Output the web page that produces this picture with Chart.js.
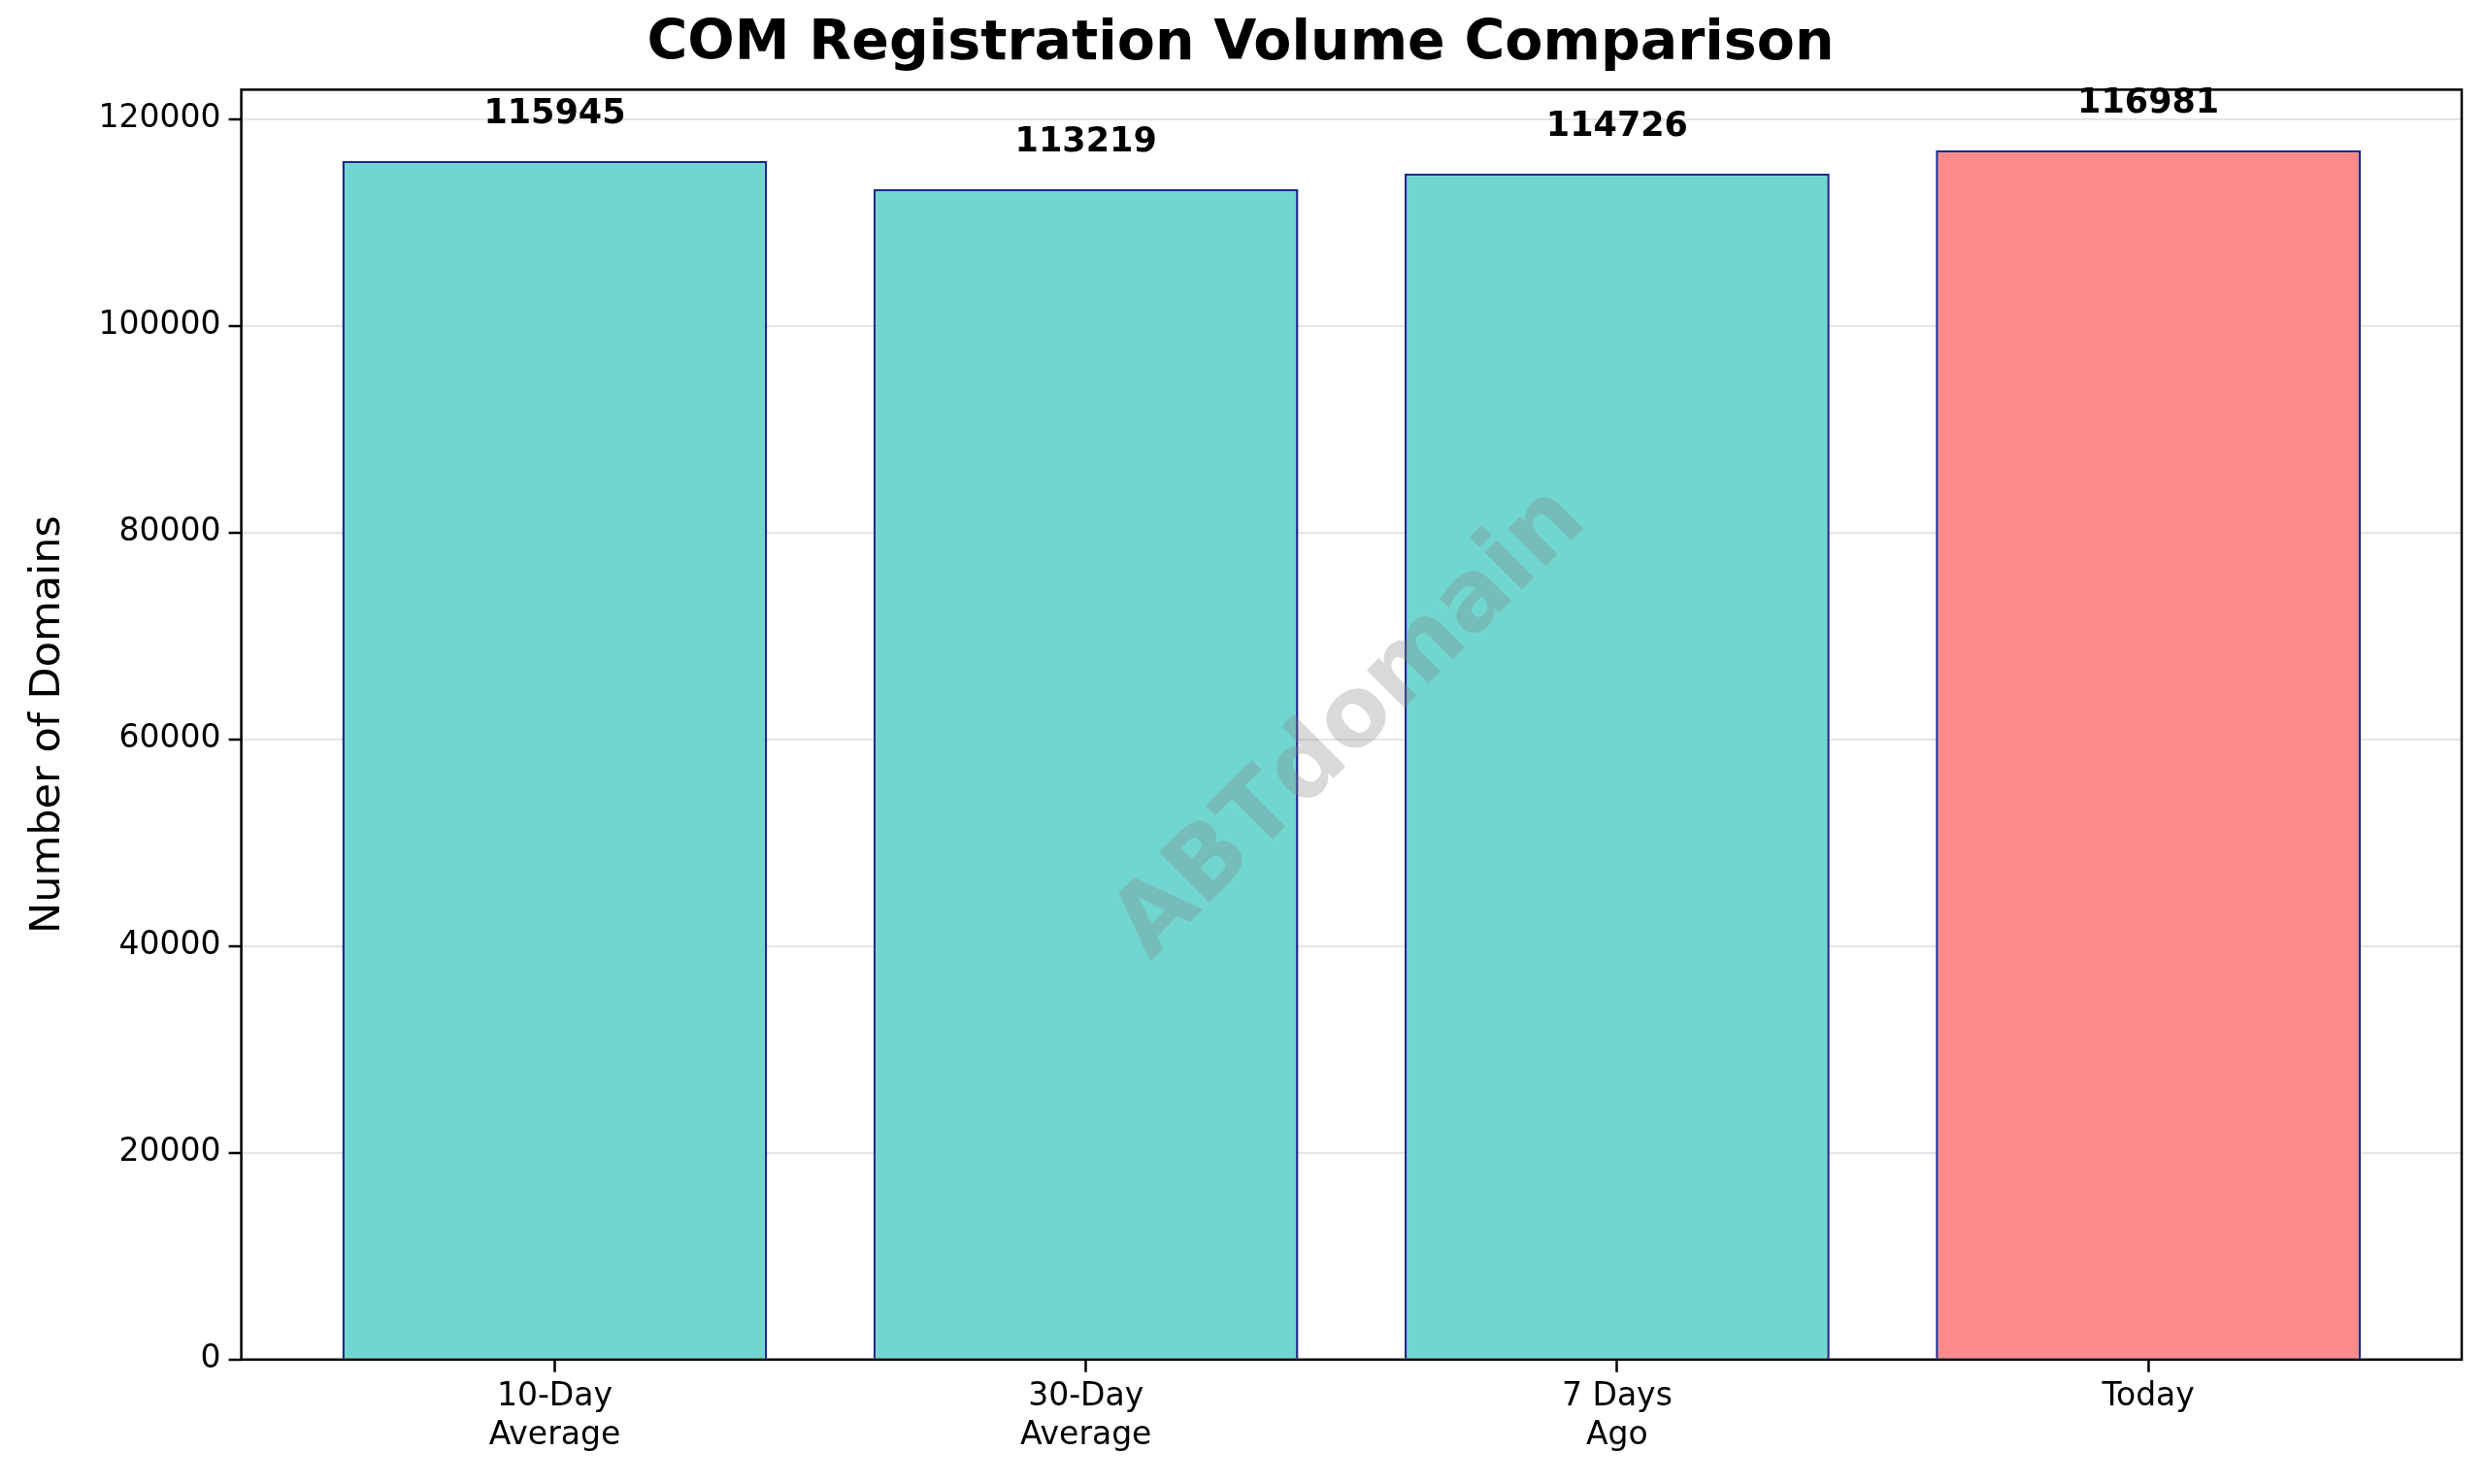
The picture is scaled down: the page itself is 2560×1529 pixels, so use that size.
<!DOCTYPE html>
<html><head><meta charset="utf-8">
<script src="https://cdn.jsdelivr.net/npm/chart.js@4/dist/chart.umd.min.js"></script>
<style>html,body{margin:0;padding:0;background:#fff}#w{width:2560px;height:1529px}</style>
</head><body><div id="w"><canvas id="c"></canvas></div>
<script>
const categories = [["10-Day","Average"],["30-Day","Average"],["7 Days","Ago"],["Today"]];
const values = [115945, 113219, 114726, 116981];
const barColors = ["#72D6D0","#72D6D0","#72D6D0","#FF8A8A"];
const yTicks = [0,20000,40000,60000,80000,100000,120000];
const F = "DejaVu Sans";

const deco = {
  id:'deco',
  afterDatasetsDraw(ch){
    const a=ch.chartArea, x=ch.ctx, ys=ch.scales.y, xs=ch.scales.x;
    x.save();
    x.font="bold 35px '"+F+"'";x.fillStyle="#000";x.textAlign="center";x.textBaseline="bottom";
    values.forEach((v,i)=>x.fillText(String(v),xs.getPixelForValue(i),ys.getPixelForValue(v)-30));
    x.strokeStyle="#000";x.lineWidth=2.5;
    x.strokeRect(a.left,a.top,a.right-a.left,a.bottom-a.top);
    x.translate((a.left+a.right)/2,(a.top+a.bottom)/2);
    x.rotate(-Math.PI/4);
    x.font="bold 100px '"+F+"'";
    x.fillStyle="rgba(128,128,128,0.3)";
    x.textAlign="center";x.textBaseline="middle";
    x.fillText("ABTdomain",0,0);
    x.restore();
  }
};

new Chart(document.getElementById('c'),{
  type:'bar',
  data:{datasets:[{data:values.map((v,i)=>({x:i,y:v})),backgroundColor:barColors,borderColor:"#1f2a8a",borderWidth:2.5,barPercentage:0.8,categoryPercentage:1}]},
  options:{
    responsive:true,maintainAspectRatio:false,animation:false,devicePixelRatio:1,
    layout:{padding:{left:20,right:24,top:12,bottom:24}},
    plugins:{legend:{display:false},tooltip:{enabled:false},
      title:{display:true,text:"COM Registration Volume Comparison",font:{family:F,size:57,weight:'bold'},color:'#000',padding:{top:0,bottom:12}}},
    scales:{
      x:{type:'linear',offset:false,min:-0.59,max:3.59,afterBuildTicks(s){s.ticks=categories.map((c,i)=>({value:i}));},
        ticks:{callback:(v)=>categories[v],font:{family:F,size:33},color:'#000',autoSkip:false,maxRotation:0,padding:6},
        grid:{offset:false,drawOnChartArea:false,tickLength:13,tickColor:'#000',tickWidth:2.5},border:{display:false}},
      y:{min:0,max:122830,afterBuildTicks(s){s.ticks=yTicks.map(v=>({value:v}));},
        ticks:{callback:(v)=>String(v),font:{family:F,size:33},color:'#000',padding:8},
        grid:{color:'rgba(0,0,0,0.1)',lineWidth:2,tickLength:13,tickColor:'#000',tickWidth:2.5},border:{display:false},
        title:{display:true,text:"Number of Domains",font:{family:F,size:43},color:'#000',padding:{bottom:18}}}
    }
  },
  plugins:[deco]
});
</script></body></html>
